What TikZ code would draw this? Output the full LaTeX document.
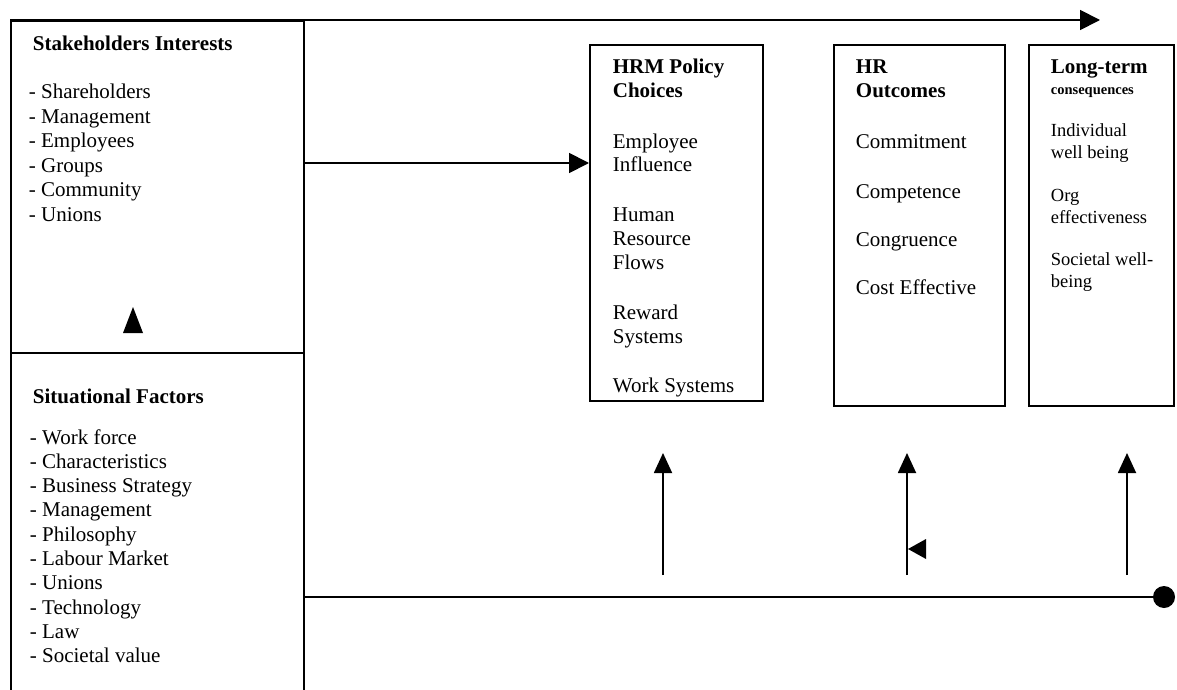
\documentclass[tikz,border=0pt]{standalone}
\usepackage{fontspec}
\setmainfont{Liberation Serif}
\usetikzlibrary{arrows.meta}
\begin{document}
\begin{tikzpicture}[x=1pt,y=-1pt,line width=1.8pt,
  box/.style={draw,rectangle,inner sep=0pt,anchor=north west},
  txt/.style={anchor=base west,inner sep=0pt,font=\fontsize{21}{24}\selectfont},
  ttl/.style={txt,font=\fontsize{21}{24}\selectfont\bfseries},
  sml/.style={txt,font=\fontsize{18.5}{22}\selectfont},
  tiny/.style={txt,font=\fontsize{14.5}{17}\selectfont\bfseries},
  tri/.style={-{Triangle[length=20pt,width=20pt]}},
  uparr/.style={-{Triangle[length=20pt,width=18pt]}}]
\useasboundingbox (0,0) rectangle (1177,690);
\clip (0,0) rectangle (1177,690);

% boxes
\node[box,minimum width=293pt,minimum height=332pt] (stake) at (10,20) {};
\node[box,minimum width=293pt,minimum height=360pt] (situ) at (10,352) {};
\node[box,minimum width=173pt,minimum height=356pt] (hrm) at (589,44) {};
\node[box,minimum width=171pt,minimum height=361pt] (hro) at (833,44) {};
\node[box,minimum width=145pt,minimum height=361pt] (ltc) at (1028,44) {};

% texts: stakeholders
\node[ttl] (sttl) at (32,51) {Stakeholders Interests};
\foreach \t [count=\i] in {- Shareholders,- Management,- Employees,- Groups,- Community,- Unions}
  \node[txt] (st\i) at (28,{99+(\i-1)*24.4}) {\t};

% situational factors
\node[ttl] (sfttl) at (32,403) {Situational Factors};
\foreach \t [count=\i] in {- Work force,- Characteristics,- Business Strategy,- Management,- Philosophy,- Labour Market,- Unions,- Technology,- Law,- Societal value}
  \node[txt] (sf\i) at (29,{444+(\i-1)*24.3}) {\t};

% HRM policy choices
\node[ttl] (h1) at (612,74) {HRM Policy};
\node[ttl] (h2) at (612,98) {Choices};
\node[txt] (h3) at (612,148) {Employee};
\node[txt] (h4) at (612,171) {Influence};
\node[txt] (h5) at (612,221) {Human};
\node[txt] (h6) at (612,245) {Resource};
\node[txt] (h7) at (612,269) {Flows};
\node[txt] (h8) at (612,319) {Reward};
\node[txt] (h9) at (612,343) {Systems};
\node[txt] (h10) at (612,392) {Work Systems};

% HR outcomes
\node[ttl] (o1) at (855,74) {HR};
\node[ttl] (o2) at (855,98) {Outcomes};
\node[txt] (o3) at (855,148) {Commitment};
\node[txt] (o4) at (855,198) {Competence};
\node[txt] (o5) at (855,246) {Congruence};
\node[txt] (o6) at (855,294) {Cost Effective};

% Long-term consequences
\node[ttl] (l1) at (1050,74) {Long-term};
\node[tiny] (l2) at (1050,95) {consequences};
\node[sml] (l3) at (1050,136) {Individual};
\node[sml] (l4) at (1050,158) {well being};
\node[sml] (l5) at (1050,201) {Org};
\node[sml] (l6) at (1050,223) {effectiveness};
\node[sml] (l7) at (1050,265) {Societal well-};
\node[sml] (l8) at (1050,287) {being};

% top arrow
\coordinate (topend) at (1100,20);
\draw[tri] (stake.north west) -- (topend);

% stakeholders -> HRM
\coordinate (sa) at (303,163);
\draw[tri] (sa) -- (sa -| hrm.west);

% small up triangle in stakeholders box
\fill (123,333) -- (133,307) -- (143,333) -- cycle;

% vertical arrows
\coordinate (v1b) at (663,575); \coordinate (v1t) at (663,453);
\coordinate (v2b) at (907,575); \coordinate (v2t) at (907,453);
\coordinate (v3b) at (1127,575); \coordinate (v3t) at (1127,453);
\draw[uparr] (v1b) -- (v1t);
\draw[uparr] (v2b) -- (v2t);
\draw[uparr] (v3b) -- (v3t);

% small left-pointing triangle
\fill (926,539) -- (908,549) -- (926,559) -- cycle;

% bottom line with dot
\coordinate (bs) at (303,597);
\coordinate (be) at (1164,597);
\draw (situ.east |- bs) -- (be);
\fill (be) circle (11pt);
\end{tikzpicture}
\end{document}
